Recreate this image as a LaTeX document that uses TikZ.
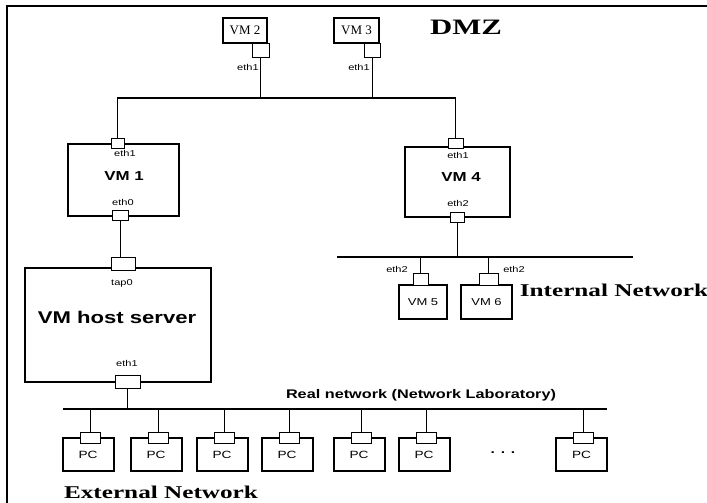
\documentclass[tikz,border=0pt]{standalone}
\usepackage{fontspec}
\setmainfont{Liberation Serif}
\newfontfamily\headfont[FakeStretch=1.4]{Liberation Serif}
\newfontfamily\labfont[FakeStretch=1.3]{Liberation Sans}
\newfontfamily\plainserif{Liberation Serif}
\begin{document}
\begin{tikzpicture}[x=1pt,y=-1pt,
  vmbox/.style={draw, line width=2pt, inner sep=0pt, fill=white},
  port/.style={draw, line width=0.9pt, fill=white, inner sep=0pt},
  wire/.style={line width=0.9pt},
  bus/.style={line width=1.4pt},
  eth/.style={font=\labfont\fontsize{8.5}{9}\selectfont, inner sep=0pt},
  vmname/.style={font=\labfont\bfseries\fontsize{13}{14}\selectfont, inner sep=0pt},
  pcname/.style={font=\labfont\fontsize{10.5}{12}\selectfont},
  smallvm/.style={font=\labfont\fontsize{10}{12}\selectfont},
  dmzvm/.style={font=\plainserif\fontsize{13}{15}\selectfont},
  zone/.style={font=\headfont\bfseries\fontsize{18}{20}\selectfont, inner sep=0pt}
]
\useasboundingbox (0,0) rectangle (707,503);

% outer frame (top and left edges)
\draw[line width=2.5pt] (7,503) -- (7,6) -- (707,6);

% ---------- DMZ ----------
\node[vmbox, minimum width=44, minimum height=25, dmzvm] (vm2) at (245,30.5) {VM 2};
\node[port, minimum width=17, minimum height=14] (vm2p) at (260.5,50) {};
\node[eth] at (248,67) {eth1};

\node[vmbox, minimum width=45, minimum height=25, dmzvm] (vm3) at (356.5,30.5) {VM 3};
\node[port, minimum width=16, minimum height=14] (vm3p) at (372,50) {};
\node[eth] at (359,67) {eth1};

\node[zone, font=\headfont\bfseries\fontsize{22}{24}\selectfont] (dmz) at (466,27) {DMZ};

% ---------- VM 1 ----------
\node[vmbox, minimum width=111, minimum height=72] (vm1) at (123.5,180) {};
\node[port, minimum width=13, minimum height=10] (vm1a) at (117.5,143) {};
\node[eth] at (125,153) {eth1};
\node[vmname] at (124,176) {VM 1};
\node[eth] at (123,202) {eth0};
\node[port, minimum width=16, minimum height=10] (vm1b) at (120,215) {};

% ---------- VM 4 ----------
\node[vmbox, minimum width=105, minimum height=70] (vm4) at (457.5,181.5) {};
\node[port, minimum width=15, minimum height=10] (vm4a) at (455.5,143.5) {};
\node[eth] at (458,155) {eth1};
\node[vmname] at (461,177) {VM 4};
\node[eth] at (458,203) {eth2};
\node[port, minimum width=14, minimum height=10] (vm4b) at (457,217) {};

% DMZ segment
\coordinate (dmzbus) at (0,98);
\draw[bus] (vm1a.north) -- (vm1a.north |- dmzbus) -| (vm4a.north);
\draw[wire] (vm2p.south) -- (vm2p.south |- dmzbus);
\draw[wire] (vm3p.south) -- (vm3p.south |- dmzbus);

% ---------- internal network ----------
\coordinate (intL) at (337,257);
\coordinate (intR) at (633,257);
\draw[bus] (intL) -- (intR);
\draw[wire] (vm4b.south) -- (vm4b.south |- intL);

\node[vmbox, minimum width=48, minimum height=34, smallvm] (vm5) at (423,302) {VM 5};
\node[port, minimum width=15, minimum height=12] (vm5p) at (420.5,279) {};
\node[eth] at (397,269) {eth2};
\node[vmbox, minimum width=51, minimum height=34, smallvm] (vm6) at (486.5,302) {VM 6};
\node[port, minimum width=19, minimum height=12] (vm6p) at (488.5,279) {};
\node[eth] at (514,269) {eth2};
\draw[wire] (vm5p.north) -- (vm5p.north |- intL);
\draw[wire] (vm6p.north) -- (vm6p.north |- intL);

\node[zone] (intnet) at (614,290) {Internal Network};

% ---------- host server ----------
\node[vmbox, line width=2.2pt, minimum width=186, minimum height=114] (host) at (118,325) {};
\node[port, minimum width=24, minimum height=13] (tap) at (123,263.5) {};
\node[eth] at (122,283) {tap0};
\node[font=\labfont\bfseries\fontsize{17}{19}\selectfont, inner sep=0pt] (hostname) at (117,317) {VM host server};
\node[eth] at (127,363) {eth1};
\node[port, minimum width=25, minimum height=13] (hostp) at (127.5,381.5) {};
\draw[wire] (vm1b.south) -- (vm1b.south |- tap.north);

% ---------- real network ----------
\coordinate (realL) at (63,409);
\coordinate (realR) at (607,409);
\draw[bus] (realL) -- (realR);
\draw[wire] (hostp.south) -- (hostp.south |- realL);
\node[font=\labfont\bfseries\fontsize{12.5}{14}\selectfont, inner sep=0pt] (reallabel) at (421,395) {Real network (Network Laboratory)};

\foreach \i/\cx in {1/88,2/156,3/222,4/287,5/359,6/424,7/581.5}{
  \node[vmbox, minimum width=51, minimum height=33, pcname] (pc\i) at (\cx,454.5) {PC};
  \node[port, minimum width=20, minimum height=11] (pcp\i) at (\cx+2,437.5) {};
  \draw[wire] (pcp\i.north) -- (pcp\i.north |- realL);
}
\node[font=\labfont\bfseries\fontsize{12}{14}\selectfont] (dots) at (503,453) {. . .};

\node[zone] (extnet) at (161,492) {External Network};
\end{tikzpicture}
\end{document}
